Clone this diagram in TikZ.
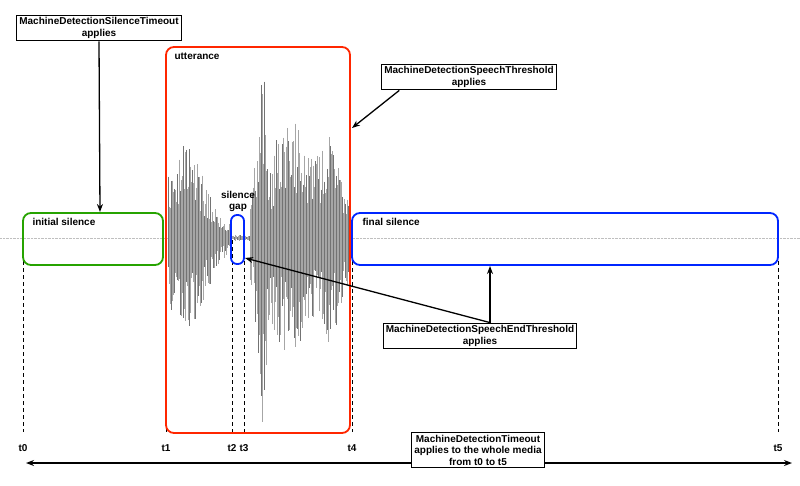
\documentclass[tikz,border=0pt]{standalone}
\usepackage{fontspec}
\setmainfont{Liberation Sans}
\usetikzlibrary{arrows.meta}
\begin{document}
\begin{tikzpicture}[x=1pt,y=-1pt,
  lbl/.style={draw,line width=1pt,fill=white,align=center,font=\bfseries\fontsize{10}{11.5}\selectfont,inner sep=2.5pt},
  tl/.style={font=\bfseries\fontsize{10}{11.5}\selectfont},
  reg/.style={rounded corners=8pt,line width=1.8pt},
  arr/.style={-{Stealth[length=8pt]},line width=1.3pt},
  tick/.style={dash pattern=on 4pt off 3pt,line width=0.7pt}]
\useasboundingbox (0,0) rectangle (800,485);
% baseline
\draw[gray!50,densely dotted] (0,238) -- (800,238);
% waveform
\pgfmathsetseed{7}
\foreach \x in {168,169,...,348}{
  \pgfmathsetmacro{\env}{
    (\x<230)*(85*exp(-((\x-185)/28)^2)+8)
   +(\x>=230)*(\x<250)*3
   +(\x>=250)*(\x<272)*(140*exp(-((\x-262)/6)^2)+50)
   +(\x>=272)*(80*exp(-((\x-290)/25)^2)+ 60*exp(-((\x-330)/12)^2)+40)}
  \pgfmathsetmacro{\a}{\env*(0.35+0.65*rnd)}
  \pgfmathsetmacro{\b}{\env*(0.35+0.65*rnd)}
  \pgfmathsetmacro{\c}{mod(\x,3)==0 ? 55 : 35}
  \draw[black!\c,line width=0.8pt] (\x,238-\a) -- (\x,238+\b);
}
% time ticks
\foreach \n/\x in {t0/23,t1/166,t2/232,t3/244,t4/352,t5/778}{
  \coordinate (\n top) at (\x,240);
  \coordinate (\n bot) at (\x,432);
  \draw[tick] (\n top) -- (\n bot);
  \node[tl,anchor=north] at (\x,441) {\n};
}
% regions
\draw[reg,green!55!black!80!lime] (23,213) rectangle (163,265);
\node[tl,anchor=north west] at (29,215) {initial silence};
\draw[reg,red!70!orange] (166,47) rectangle (350,433);
\node[tl,anchor=north west] at (171,49) {utterance};
\draw[reg,rounded corners=6pt,blue!85!cyan] (231,215) rectangle (244,264);
\node[tl,align=center,anchor=south,inner sep=1pt] (gaplbl) at (238,213) {silence\\gap};
\draw[reg,blue!85!cyan] (352,213) rectangle (778,265);
\node[tl,anchor=north west] at (359,215) {final silence};
\coordinate (gapR) at (245,258);
\coordinate (finalB) at (490,266);
\coordinate (uttR) at (352,128);
\coordinate (initT) at (100,212);
% labels
\node[lbl] (sto) at (99,28) {MachineDetectionSilenceTimeout\\applies};
\node[lbl] (sth) at (469,77) {MachineDetectionSpeechThreshold\\applies};
\node[lbl] (set) at (480,336) {MachineDetectionSpeechEndThreshold\\applies};
\coordinate (L) at (26,463);
\coordinate (R) at (792,463);
\draw[{Stealth[length=8pt]}-{Stealth[length=8pt]},line width=1.3pt] (L) -- (R);
\node[lbl] (to) at (478,450) {MachineDetectionTimeout\\applies to the whole media\\from t0 to t5};
% arrows
\draw[arr] (sto.south) -- (initT);
\draw[arr] (sth.south west) ++(18,0) -- (uttR);
\draw[arr] (set.north) ++(10,0) coordinate (sn) -- (finalB);
\draw[arr] (sn) -- (gapR);
\end{tikzpicture}
\end{document}
